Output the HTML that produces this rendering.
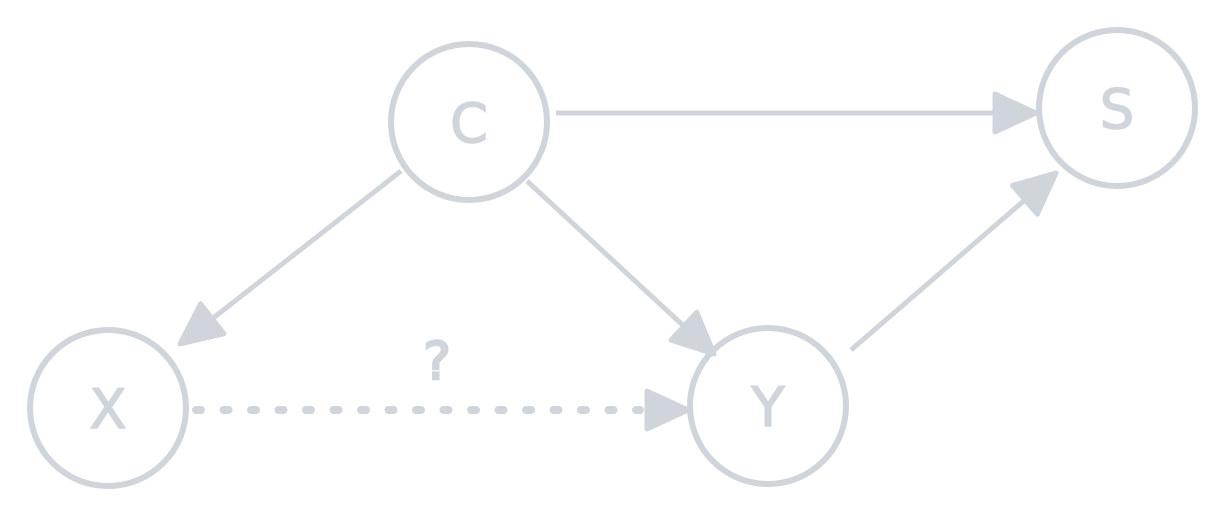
<!DOCTYPE html>
<html><head><meta charset="utf-8"><style>
html,body{margin:0;padding:0;background:#fff;}
svg{display:block;}
text{font-family:"DejaVu Sans","Liberation Sans",sans-serif;fill:#d0d5db;stroke:#d0d5db;stroke-width:1.5;}
</style></head><body>
<svg width="1226" height="516" viewBox="0 0 1226 516">
<defs>
<marker id="a" markerUnits="userSpaceOnUse" markerWidth="60" markerHeight="60" refX="44" refY="22" orient="auto">
<path d="M3,3 L44,22 L3,41 z" fill="#d0d5db" stroke="#d0d5db" stroke-width="5" stroke-linejoin="round"/>
</marker>
</defs>
<g fill="none" stroke="#d0d5db" stroke-width="5">
<circle cx="469" cy="122" r="78" stroke-width="6"/>
<circle cx="1117" cy="108" r="78" stroke-width="6"/>
<circle cx="108" cy="408" r="78" stroke-width="6"/>
<circle cx="768" cy="406" r="78" stroke-width="6"/>
<line x1="556" y1="113" x2="1036" y2="113" marker-end="url(#a)"/>
<line x1="401" y1="171" x2="180" y2="344" marker-end="url(#a)"/>
<line x1="527" y1="181" x2="714" y2="354" marker-end="url(#a)"/>
<line x1="851" y1="350" x2="1056" y2="173" marker-end="url(#a)"/>
<line x1="196" y1="410" x2="640" y2="410" stroke-dasharray="5 22.5" stroke-linecap="round" stroke-width="8"/>
<line x1="645" y1="410" x2="688" y2="410" stroke-width="5" marker-end="url(#a)"/>
</g>
<text x="469" y="142" font-size="54" text-anchor="middle">C</text>
<text x="1117" y="128" font-size="54" text-anchor="middle">S</text>
<text x="108" y="428" font-size="54" text-anchor="middle">X</text>
<text x="768" y="426" font-size="54" text-anchor="middle">Y</text>
<text x="437" y="379" font-size="52" text-anchor="middle" style="stroke-width:2.5">?</text>
</svg>
</body></html>
